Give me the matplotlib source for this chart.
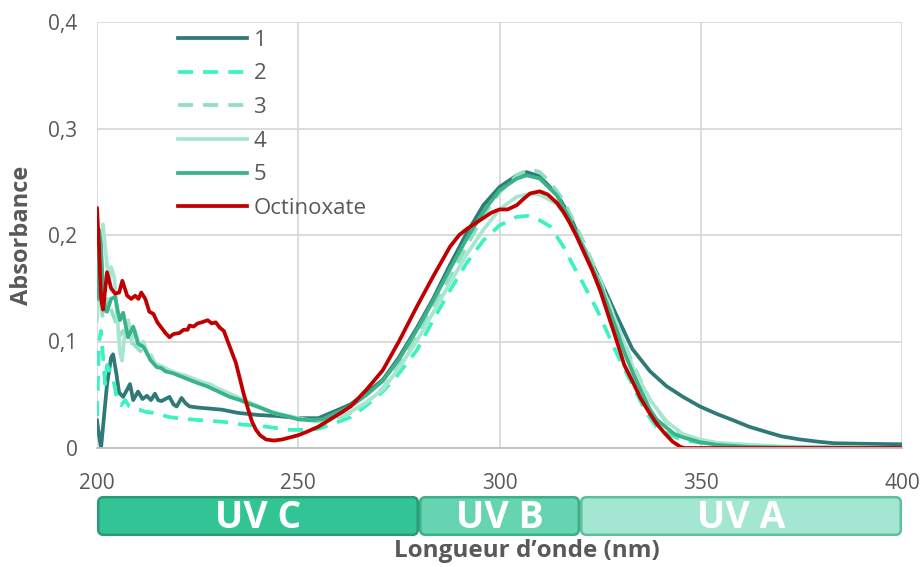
import matplotlib
matplotlib.use("Agg")
import matplotlib.pyplot as plt
from matplotlib.patches import FancyBboxPatch

plt.rcParams['font.family'] = ['Open Sans', 'DejaVu Sans']

# ---------------- data ----------------
wl_1 = [200, 200.5, 201, 201.5, 202.5, 203.5, 204, 204.8, 205.5, 206.5, 207.5, 208.2, 209, 210.2, 211.3,
        212.4, 213.4, 214.4, 215.2, 216, 217, 218, 219, 219.8, 221, 222, 223, 225, 228, 231, 235, 240,
        245, 250, 255, 260, 263, 267, 271, 275, 279.5, 283.5, 287.7, 291.9, 296, 300, 304.3, 306.8, 310,
        314.3, 317.5, 320.7, 325, 329, 333, 337.4, 341.5, 345.6, 349.8, 354, 358.1, 362, 366.4, 370,
        374.7, 379, 383, 390, 400]
abs_1 = [0.026, 0.012, 0.0, 0.02, 0.06, 0.085, 0.088, 0.07, 0.052, 0.048, 0.055, 0.06, 0.045, 0.053, 0.046,
         0.049, 0.045, 0.051, 0.045, 0.044, 0.046, 0.048, 0.041, 0.039, 0.047, 0.042, 0.039, 0.038, 0.037,
         0.036, 0.033, 0.031, 0.03, 0.028, 0.028, 0.036, 0.041, 0.052, 0.064, 0.085, 0.113, 0.14, 0.172,
         0.202, 0.228, 0.245, 0.256, 0.259, 0.255, 0.238, 0.218, 0.19, 0.158, 0.125, 0.093, 0.072, 0.058,
         0.048, 0.039, 0.032, 0.026, 0.02, 0.015, 0.011, 0.008, 0.006, 0.0045, 0.004, 0.0035]

wl_2 = [200, 200.5, 201, 201.5, 202, 202.5, 203.5, 204.3, 205, 206, 207, 208, 209, 210.5, 212, 214, 216,
        218, 220, 223, 226, 230, 233, 236, 240, 244, 248, 252, 255, 258, 261, 263, 267, 271, 275, 279.5,
        283.5, 287.7, 291.9, 296, 300, 304.3, 307, 309, 312.6, 315.9, 318.5, 320.7, 324.2, 329.1, 333.2,
        336.5, 339, 341.5, 345, 349.8, 355, 365, 400]
abs_2 = [0.03, 0.1, 0.11, 0.085, 0.06, 0.078, 0.07, 0.06, 0.045, 0.04, 0.045, 0.039, 0.037, 0.036, 0.034,
         0.033, 0.031, 0.029, 0.028, 0.027, 0.026, 0.025, 0.024, 0.022, 0.021, 0.019, 0.017, 0.017, 0.018,
         0.022, 0.026, 0.029, 0.04, 0.053, 0.07, 0.092, 0.12, 0.148, 0.174, 0.195, 0.209, 0.217, 0.218,
         0.216, 0.208, 0.189, 0.17, 0.155, 0.13, 0.089, 0.058, 0.033, 0.02, 0.014, 0.008, 0.005, 0.003,
         0.001, 0.0]

wl_3 = [200, 200.5, 201.5, 202.5, 203.5, 204.5, 205.5, 206.5, 207.5, 209, 210.5, 212, 214, 216, 218, 220,
        224, 228, 232, 236, 240, 244, 248, 250, 253, 256, 260, 263, 267, 271, 275, 279.5, 283.5, 287.7,
        291.9, 296, 300, 304.3, 307.5, 310, 312.5, 316, 318.5, 320.7, 325, 329, 333.2, 337.4, 341.5,
        345.6, 350, 360, 370, 400]
abs_3 = [0.14, 0.15, 0.12, 0.14, 0.13, 0.12, 0.105, 0.11, 0.1, 0.098, 0.092, 0.088, 0.08, 0.076, 0.073,
         0.069, 0.064, 0.059, 0.052, 0.045, 0.038, 0.033, 0.029, 0.027, 0.025, 0.025, 0.029, 0.033, 0.043,
         0.056, 0.077, 0.104, 0.131, 0.16, 0.19, 0.218, 0.24, 0.256, 0.262, 0.259, 0.25, 0.232, 0.212,
         0.195, 0.158, 0.118, 0.078, 0.045, 0.024, 0.012, 0.006, 0.002, 0.001, 0.0]

wl_4 = [200, 200.7, 201.5, 202.3, 203, 203.5, 204.3, 205, 205.7, 206.2, 207, 207.8, 208.5, 209.5, 210.5,
        211.5, 212.5, 213.5, 214.5, 216, 218, 220, 222, 224, 226, 228, 230, 233, 236, 239, 242, 245, 248,
        250, 253, 256, 260, 263, 267, 271, 275, 279.5, 283.5, 287.7, 291.9, 296, 300, 304.3, 308, 310,
        314.3, 317.5, 320.7, 325, 329, 333.2, 337.4, 341.5, 345.6, 349.8, 354, 362, 370, 380, 400]
abs_4 = [0.12, 0.18, 0.21, 0.178, 0.155, 0.17, 0.16, 0.125, 0.09, 0.082, 0.11, 0.12, 0.1, 0.11, 0.095,
         0.1, 0.088, 0.087, 0.079, 0.077, 0.073, 0.07, 0.068, 0.065, 0.062, 0.06, 0.056, 0.051, 0.046,
         0.041, 0.036, 0.032, 0.03, 0.028, 0.026, 0.026, 0.03, 0.034, 0.043, 0.055, 0.075, 0.101, 0.127,
         0.155, 0.182, 0.205, 0.224, 0.236, 0.239, 0.238, 0.229, 0.212, 0.189, 0.156, 0.118, 0.075, 0.045,
         0.025, 0.013, 0.008, 0.005, 0.003, 0.0015, 0.0005, 0.0]

wl_5 = [200, 200.5, 201, 201.5, 202, 202.5, 203.5, 204.5, 205.2, 205.7, 206.5, 207.7, 209, 210.2, 211.5,
        212.3, 213.2, 214.8, 216, 217, 219, 221, 223, 225, 227.3, 229, 231.3, 233, 235.5, 237.5, 239.7,
        241.8, 243.8, 246, 248, 250, 253, 256, 260, 263, 267, 271, 275, 279.5, 283.5, 287.7, 291.9, 296,
        300, 304.3, 306.8, 310, 314.3, 317.5, 320.7, 325, 329, 331, 333.2, 335, 337.4, 339, 341.5, 343.5,
        345.6, 349.8, 354, 362, 370, 400]
abs_5 = [0.14, 0.205, 0.19, 0.15, 0.13, 0.128, 0.14, 0.142, 0.128, 0.12, 0.127, 0.104, 0.114, 0.098, 0.095,
         0.09, 0.083, 0.076, 0.075, 0.072, 0.07, 0.067, 0.064, 0.061, 0.058, 0.055, 0.051, 0.048, 0.045,
         0.042, 0.039, 0.036, 0.033, 0.031, 0.029, 0.027, 0.026, 0.027, 0.034, 0.039, 0.05, 0.063, 0.083,
         0.111, 0.138, 0.168, 0.197, 0.222, 0.242, 0.253, 0.256, 0.253, 0.237, 0.215, 0.188, 0.153, 0.112,
         0.09, 0.07, 0.055, 0.036, 0.027, 0.019, 0.013, 0.01, 0.0055, 0.003, 0.001, 0.0005, 0.0]

wl_oct = [200, 200.5, 201, 201.5, 202.5, 203.5, 204.5, 205.5, 206.3, 207.5, 208.5, 209.5, 210.3, 211, 212,
          213, 214, 215, 216, 217, 218, 219, 220.5, 221.5, 222.5, 223, 224, 225, 226, 227.5, 228.5, 229.5,
          230.5, 231.5, 232.5, 233.5, 234.5, 235.5, 236.5, 237.5, 238.5, 239.5, 240.5, 242, 244, 246, 248,
          250, 252, 255, 258, 261, 263, 267, 271, 275, 279.5, 283.5, 287.7, 290, 292, 294, 296, 298, 300,
          302, 304.3, 306, 307.6, 310, 312, 314.3, 316, 317.5, 319, 320.7, 323, 325, 327, 329, 331, 333,
          335, 337.4, 339, 341, 343, 345, 346, 400]
abs_oct = [0.225, 0.19, 0.14, 0.13, 0.165, 0.15, 0.145, 0.146, 0.157, 0.143, 0.14, 0.143, 0.14, 0.146, 0.14,
           0.128, 0.126, 0.118, 0.113, 0.108, 0.104, 0.107, 0.108, 0.111, 0.111, 0.115, 0.114, 0.117, 0.118,
           0.12, 0.117, 0.118, 0.113, 0.11, 0.1, 0.09, 0.08, 0.065, 0.05, 0.037, 0.025, 0.017, 0.012, 0.008,
           0.007, 0.008, 0.01, 0.012, 0.015, 0.02, 0.027, 0.034, 0.039, 0.055, 0.073, 0.1, 0.133, 0.161,
           0.189, 0.2, 0.206, 0.211, 0.216, 0.221, 0.224, 0.224, 0.228, 0.234, 0.239, 0.241, 0.238, 0.23,
           0.221, 0.211, 0.2, 0.186, 0.167, 0.148, 0.125, 0.102, 0.078, 0.063, 0.047, 0.032, 0.023, 0.014,
           0.006, 0.001, 0.0, 0.0]

series_labels = ['1', '2', '3', '4', '5', 'Octinoxate']
uv_bands = ['UV C', 'UV B', 'UV A']
uv_limits = [(200, 280), (280, 320), (320, 400)]
x_ticks = [200, 250, 300, 350, 400]
y_ticks = [0, 0.1, 0.2, 0.3, 0.4]
y_ticklabels = ['0', '0,1', '0,2', '0,3', '0,4']

# ---------------- figure ----------------
W, H = 924, 567
fig = plt.figure(figsize=(W / 100, H / 100), dpi=100)
ax_l, ax_r, ax_t, ax_b = 97, 902, 22, 448
ax = fig.add_axes([ax_l / W, 1 - ax_b / H, (ax_r - ax_l) / W, (ax_b - ax_t) / H])

lw = 2.7
dash = (0, (4.0, 2.7))
ax.plot(wl_1, abs_1, color='#2F7A78', lw=lw, label=series_labels[0])
ax.plot(wl_2, abs_2, color='#3CF2C0', lw=lw, ls=dash, label=series_labels[1])
ax.plot(wl_3, abs_3, color='#8FDFC3', lw=lw, ls=dash, label=series_labels[2])
ax.plot(wl_4, abs_4, color='#A8E6D0', lw=lw, label=series_labels[3])
ax.plot(wl_5, abs_5, color='#3AB38A', lw=lw, label=series_labels[4])
ax.plot(wl_oct, abs_oct, color='#C00000', lw=lw, label=series_labels[5])

ax.set_xlim(200, 400)
ax.set_ylim(0, 0.4)
ax.set_xticks(x_ticks)
ax.set_yticks(y_ticks)
ax.set_yticklabels(y_ticklabels)
ax.grid(True, color='#D9D9D9', lw=1.3)
ax.set_axisbelow(True)
for s in ['top', 'right', 'left']:
    ax.spines[s].set_visible(False)
ax.spines['bottom'].set_color('#BFBFBF')
ax.spines['bottom'].set_linewidth(1.3)
ax.tick_params(axis='both', length=0, labelsize=15, colors='#595959')
ax.tick_params(axis='x', pad=18)
ax.tick_params(axis='y', pad=14)

ax.set_ylabel('Absorbance', fontsize=17, fontweight='bold', color='#595959')
ax.yaxis.label.set_va('center')
ax.yaxis.set_label_coords((22 - ax_l) / (ax_r - ax_l), 0.5)

leg = ax.legend(loc='upper left', bbox_to_anchor=((178 - ax_l) / (ax_r - ax_l), 0.982),
                frameon=False, fontsize=16, handlelength=3.1, handletextpad=0.3,
                labelspacing=0.57, borderaxespad=0, borderpad=0)
for t in leg.get_texts():
    t.set_color('#595959')

# ---------------- UV band ----------------
band_top, band_bot = 496, 536
bax = fig.add_axes([ax_l / W, 1 - band_bot / H, (ax_r - ax_l) / W, (band_bot - band_top) / H])
bax.set_xlim(200, 400)
bax.set_ylim(0, 1)
bax.axis('off')
fills = ['#33C495', '#66D4B0', '#A3E6D1']
edges = ['#2A9A74', '#3DAF8A', '#5DBF9B']
asp = (1 / (band_bot - band_top)) / (200 / (ax_r - ax_l))
for (x0, x1), name, fc, ec in zip(uv_limits, uv_bands, fills, edges):
    p = FancyBboxPatch((x0 + 0.3, 0.03), x1 - x0 - 0.6, 0.94,
                       boxstyle='round,pad=0,rounding_size=1.3', mutation_aspect=asp,
                       fc=fc, ec=ec, lw=1.8, clip_on=False)
    bax.add_patch(p)
    bax.text((x0 + x1) / 2, 0.45, name, ha='center', va='center', color='white',
             fontsize=27, fontweight='bold')

fig.text(527 / W, 1 - 551 / H, 'Longueur d\u2019onde (nm)', ha='center', va='center',
         fontsize=17.5, fontweight='bold', color='#595959')

fig.savefig('out.png', dpi=100)
